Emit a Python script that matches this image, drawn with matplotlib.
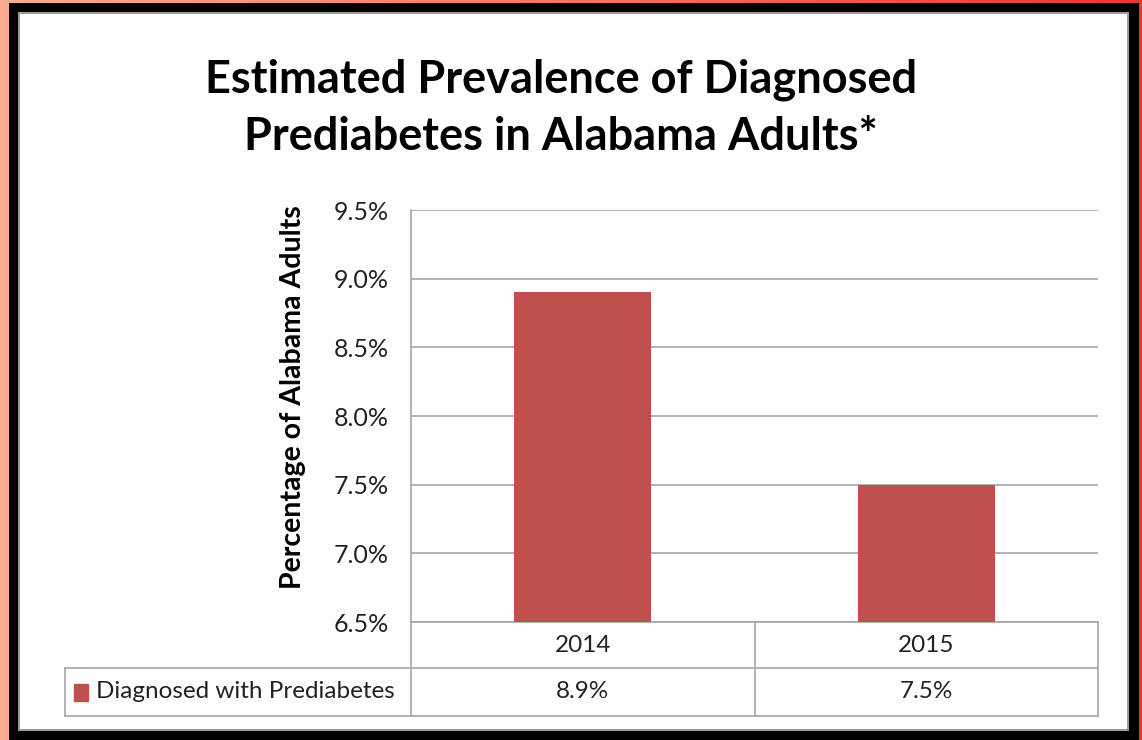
import numpy as np
import matplotlib
matplotlib.use("Agg")
import matplotlib.pyplot as plt
from matplotlib.patches import Rectangle
from matplotlib.lines import Line2D
import matplotlib.transforms as mtransforms
from matplotlib.colors import LinearSegmentedColormap

# ---- data ----
categories = ["2014", "2015"]
values = [8.9, 7.5]
series_name = "Diagnosed with Prediabetes"
yticks = [6.5, 7.0, 7.5, 8.0, 8.5, 9.0, 9.5]
title = "Estimated Prevalence of Diagnosed\nPrediabetes in Alabama Adults*"
ylabel = "Percentage of Alabama Adults"

BAR = "#C0504D"
GRID = "#A6A6A6"
FONT = "Lato"
FS = 17.5

W, H = 1142, 740
fig = plt.figure(figsize=(W / 100, H / 100), dpi=100)

# background gradient + frame
bg = fig.add_axes([0, 0, 1, 1], zorder=-10)
bg.set_axis_off()
grad = np.linspace(0, 1, 256).reshape(1, -1)
cmap = LinearSegmentedColormap.from_list("bg", ["#F9AC90", "#F07A5E", "#E23A2A"])
bg.imshow(grad, aspect="auto", cmap=cmap, extent=[0, 1, 0, 1])
bg.set_xlim(0, 1); bg.set_ylim(0, 1)
bg.add_patch(Rectangle((9 / W, 0), (1139 - 9) / W, (740 - 3) / H, color="black", lw=0))
bg.add_patch(Rectangle((18 / W, (740 - 731) / H), (1129 - 18) / W, (731 - 12) / H,
                       facecolor="#9A9A9A", lw=0))
bg.add_patch(Rectangle((20 / W, (740 - 729) / H), (1127 - 20) / W, (729 - 14) / H,
                       facecolor="white", lw=0))

# title
fig.text(561 / W, 1 - 108 / H, title, ha="center", va="center", fontsize=32.5,
         fontweight="bold", family=FONT, linespacing=1.45)

# main axes
L, R, T, B = 411, 1098, 210, 622
ax = fig.add_axes([L / W, 1 - B / H, (R - L) / W, (B - T) / H])
x = np.arange(len(categories))
ax.bar(x, [v - yticks[0] for v in values], bottom=yticks[0], width=0.4, color=BAR, zorder=3)
ax.set_xlim(-0.5, len(categories) - 0.5)
ax.set_ylim(yticks[0], yticks[-1])
ax.set_yticks(yticks)
ax.set_yticklabels([f"{t:.1f}%" for t in yticks], fontsize=18, family=FONT, color="#222222")
ax.tick_params(axis="y", length=0, pad=16)
ax.set_xticks([])
ax.grid(axis="y", color=GRID, lw=1.2, zorder=0)
for s in ["top", "right", "bottom"]:
    ax.spines[s].set_visible(False)
ax.spines["left"].set_color(GRID)
ax.spines["left"].set_linewidth(1.2)
ax.set_ylabel(ylabel, fontsize=20.5, fontweight="bold", family=FONT, labelpad=20)
ax.yaxis.label.set_y(0.547)

# data table below axes
trans = mtransforms.blended_transform_factory(ax.transData, ax.transAxes)
ph = B - T
r1 = -(668 - B) / ph
r2 = -(716 - B) / ph
leg_left = -(L - 65) / (R - L)
lkw = dict(color=GRID, lw=1.2, clip_on=False)
ax.add_line(Line2D([0, 1], [0, 0], transform=ax.transAxes, **lkw))
ax.add_line(Line2D([leg_left, 1], [r1, r1], transform=ax.transAxes, **lkw))
ax.add_line(Line2D([leg_left, 1], [r2, r2], transform=ax.transAxes, **lkw))
ax.add_line(Line2D([0, 0], [r2, 0], transform=ax.transAxes, **lkw))
ax.add_line(Line2D([1, 1], [r2, 0], transform=ax.transAxes, **lkw))
ax.add_line(Line2D([leg_left, leg_left], [r2, r1], transform=ax.transAxes, **lkw))
for i in range(1, len(categories)):
    ax.add_line(Line2D([i - 0.5, i - 0.5], [r2, 0], transform=trans, **lkw))
for i, (c, v) in enumerate(zip(categories, values)):
    ax.text(i, r1 / 2, c, transform=trans, ha="center", va="center",
            fontsize=FS, family=FONT, color="#222222", clip_on=False)
    ax.text(i, (r1 + r2) / 2, f"{v:.1f}%", transform=trans, ha="center", va="center",
            fontsize=FS, family=FONT, color="#222222", clip_on=False)
# legend key
ax.add_patch(Rectangle((leg_left + 9 / (R - L), (r1 + r2) / 2 - 8.5 / ph), 14 / (R - L), 17 / ph,
                       transform=ax.transAxes, color=BAR, clip_on=False))
ax.text(leg_left + 31 / (R - L), (r1 + r2) / 2, series_name, transform=ax.transAxes,
        ha="left", va="center", fontsize=FS, family=FONT, color="#222222", clip_on=False)

fig.savefig("out.png", dpi=100)
